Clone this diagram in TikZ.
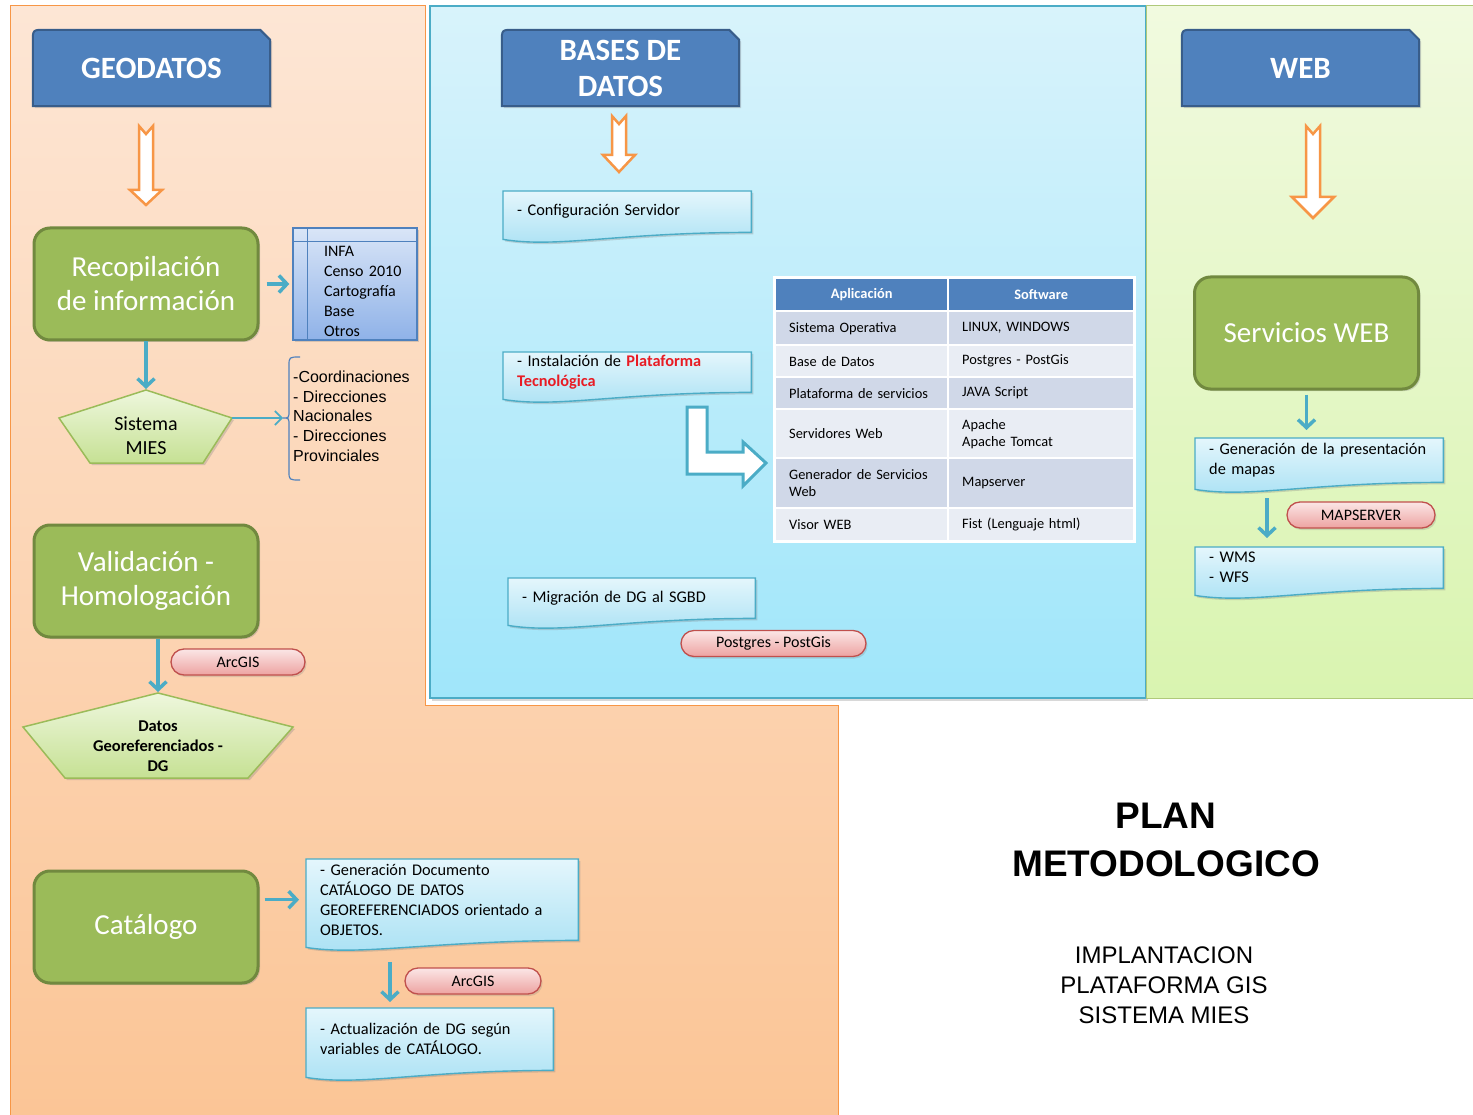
\documentclass[tikz,border=0pt]{standalone}
\usepackage{fontspec}
\setmainfont{Carlito}
\newfontfamily\arialfont{Liberation Sans}
\usetikzlibrary{arrows.meta,calc,positioning,shadows}
\definecolor{gsBlue}{HTML}{4F81BD}
\definecolor{gsBlueDark}{HTML}{385D8A}
\definecolor{gsTeal}{HTML}{4BACC6}
\definecolor{gsGreen}{HTML}{9BBB59}
\definecolor{gsGreenDark}{HTML}{71893F}
\definecolor{gsOrange}{HTML}{F79646}
\definecolor{gsRose}{HTML}{C0504D}
\definecolor{gsRed}{HTML}{E81C24}
\definecolor{gsRowA}{HTML}{D0D8E8}
\definecolor{gsRowB}{HTML}{E9EDF4}
\definecolor{gsPeachTop}{HTML}{FDE6D5}
\definecolor{gsPeachBot}{HTML}{FBC596}
\definecolor{gsSkyTop}{HTML}{D8F3FB}
\definecolor{gsSkyBot}{HTML}{A0E6FA}
\definecolor{gsLimeTop}{HTML}{F1FADF}
\definecolor{gsLimeBot}{HTML}{D9F4B0}
\definecolor{gsDocTop}{HTML}{E4F6FC}
\definecolor{gsDocBot}{HTML}{A9E1F4}
\definecolor{gsPentTop}{HTML}{EEF7DD}
\definecolor{gsPentBot}{HTML}{C6E194}
\definecolor{gsStoreTop}{HTML}{D9E5F7}
\definecolor{gsStoreBot}{HTML}{8FB2E8}
\definecolor{gsPillTop}{HTML}{FBE6E6}
\definecolor{gsPillBot}{HTML}{EDA3A1}
\newcommand{\fsz}[2]{\fontsize{#1}{#2}\selectfont}
\pgfdeclarelayer{back}
\pgfdeclarelayer{mid}
\pgfsetlayers{back,mid,main}
\tikzset{
  hdr/.style={minimum width=237pt, minimum height=76pt, inner sep=0pt,
    align=center, text=white, font=\bfseries\fsz{31}{36}},
  hdrshape/.style={fill=gsBlue, draw=gsBlueDark, line width=2pt,
    drop shadow={opacity=0.3, shadow xshift=2pt, shadow yshift=-2pt}},
  gbox/.style={minimum width=224pt, minimum height=112pt, rounded corners=16pt,
    fill=gsGreen, draw=gsGreenDark, line width=3pt, text=white, align=center,
    font=\fsz{29}{34}, drop shadow={opacity=0.3, shadow xshift=2pt, shadow yshift=-2pt}},
  store/.style={minimum width=124pt, minimum height=112pt, text width=96pt,
    inner xsep=14pt, inner ysep=0pt, align=left, top color=gsStoreTop,
    bottom color=gsStoreBot, draw=gsBlue, line width=1.3pt, font=\fsz{16}{20},
    drop shadow={opacity=0.3, shadow xshift=2pt, shadow yshift=-2pt}},
  pentshape/.style={top color=gsPentTop, bottom color=gsPentBot, draw=gsGreen,
    line width=1.5pt, drop shadow={opacity=0.3, shadow xshift=2pt, shadow yshift=-2pt}},
  penttext/.style={align=center, inner sep=0pt, font=\fsz{20}{24}},
  listtext/.style={align=left, inner sep=0pt, font=\arialfont\fsz{16}{19.7}},
  doc/.style={anchor=north west, inner xsep=14pt, inner ysep=0pt, align=left,
    font=\fsz{16.3}{20}},
  docshape/.style={top color=gsDocTop, bottom color=gsDocBot, draw=gsTeal,
    line width=1.4pt, drop shadow={opacity=0.3, shadow xshift=2pt, shadow yshift=-2pt}},
  pill/.style={minimum height=26pt, rounded corners=13pt, inner sep=0pt,
    top color=gsPillTop, bottom color=gsPillBot, draw=gsRose, line width=1.3pt,
    font=\fsz{16}{20}, drop shadow={opacity=0.25, shadow xshift=1.5pt, shadow yshift=-2pt}},
  cellhead/.style={anchor=north west, minimum height=31pt, inner sep=0pt,
    fill=gsBlue, text=white, font=\bfseries\fsz{14.4}{17}},
  cell/.style={anchor=north west, inner xsep=13pt, inner ysep=0pt, align=left,
    font=\fsz{14.4}{17}},
  barrow/.style={-{Straight Barb[length=8pt,width=17pt]}, draw=gsTeal, line width=3.5pt},
  tarrow/.style={-{Straight Barb[length=7pt,width=14pt]}, draw=gsTeal, line width=1.6pt},
  orangearrow/.style={fill=white, draw=gsOrange, line width=2.5pt, line join=miter},
  bentarrow/.style={fill=white, draw=gsTeal, line width=3pt, line join=miter}
}
\begin{document}
\begin{tikzpicture}[x=1pt,y=-1pt]
  \useasboundingbox (0,0) rectangle (1473,1115);
  \begin{pgfonlayer}{back}
    \fill[white] (0,0) rectangle (1473,1115);
    % panels
    \shade[top color=gsPeachTop, bottom color=gsPeachBot, draw=gsOrange, line width=1pt]
      (10,6) -- (425,6) -- (425,705) -- (838,705) -- (838,1115) -- (10,1115) -- cycle;
    \shade[top color=gsSkyTop, bottom color=gsSkyBot, draw=gsTeal, line width=1.5pt,
      drop shadow={opacity=0.3, shadow xshift=2pt, shadow yshift=-3pt}] (430,6) rectangle (1146,698);
    \shade[top color=gsLimeTop, bottom color=gsLimeBot, draw=gsGreen!80, line width=1pt]
      (1146,6) rectangle (1473,698);
  \end{pgfonlayer}

  % headers
  \node[hdr] (geo) at (151.5,68) {GEODATOS};
  \node[hdr] (bdd) at (620.5,68) {BASES DE\\DATOS};
  \node[hdr] (web) at (1300.5,68) {WEB};

  \foreach \cx/\ya/\yb/\hw/\hl in {146/126/205/16/15, 619/116/172/16/17, 1313/126/218/21/21}
    \draw[orangearrow] (\cx-7,\ya) -- (\cx,\ya+8) -- (\cx+7,\ya) -- (\cx+7,\yb-\hl)
      -- (\cx+\hw,\yb-\hl) -- (\cx,\yb) -- (\cx-\hw,\yb-\hl) -- (\cx-7,\yb-\hl) -- cycle;

  % geodatos column
  \node[gbox] (recop) at (146,284) {Recopilación\\de información};
  \node[gbox] (valid) at (146,581) {Validación -\\Homologación};
  \node[gbox] (catal) at (146,927) {Catálogo};

  \node[store] (infa) at (355,284) {\leftskip=17pt \mbox{}\\[6pt]INFA\\Censo 2010\\Cartografía\\Base\\Otros\par};
  \draw[gsBlue, line width=1pt] ([yshift=-14pt]infa.north west) -- ([yshift=-14pt]infa.north east);
  \draw[gsBlue, line width=1pt] ([xshift=15pt]infa.north west) -- ([xshift=15pt]infa.south west);

  \coordinate (miesT) at (146,390);
  \coordinate (miesR) at (232,418);
  \draw[pentshape] (miesT) -- (miesR) -- (203,463) -- (90,463) -- (59,418) -- cycle;
  \node[penttext] (mies) at (146,436) {Sistema\\MIES};

  \coordinate (brc) at (283,418);
  \draw[gsBlue, line width=1.2pt] (300,357) .. controls (289,357) .. (289,366) -- (289,410)
    .. controls (289,418) .. (brc) .. controls (289,418) .. (289,426) -- (289,471)
    .. controls (289,480) .. (300,480);
  \node[listtext, anchor=west] (unid) at (293,416)
    {-Coordinaciones\\- Direcciones\\Nacionales\\- Direcciones\\Provinciales};

  \coordinate (datT) at (158,693);
  \draw[pentshape] (datT) -- (293,727) -- (248,778) -- (65,778) -- (23,727) -- cycle;
  \node[penttext, font=\bfseries\fsz{16.5}{20}] (dg) at (158,746) {Datos\\Georeferenciados -\\DG};

  \node[pill, minimum width=134pt] (arc1) at (238,662) {ArcGIS};

  \node[doc, minimum width=272pt, minimum height=81pt, text width=244pt] (gdoc) at (306,859)
    {- Generación Documento\\CATÁLOGO DE DATOS\\GEOREFERENCIADOS orientado a\\OBJETOS.};
  \node[doc, minimum width=247pt, minimum height=62pt, text width=219pt] (act) at (306,1008)
    {- Actualización de DG según\\variables de CATÁLOGO.};
  \node[pill, minimum width=136pt] (arc2) at (473,981) {ArcGIS};

  % bases de datos column
  \node[doc, minimum width=248pt, minimum height=41pt, text width=220pt] (cfg) at (503,191)
    {- Configuración Servidor};
  \node[doc, minimum width=248pt, minimum height=40pt, text width=220pt] (inst) at (503,352)
    {- Instalación de \textcolor{gsRed}{\textbf{Plataforma}}\\\textcolor{gsRed}{\textbf{Tecnológica}}};
  \node[doc, minimum width=247pt, minimum height=40pt, text width=219pt] (mig) at (508,578)
    {- Migración de DG al SGBD};
  \node[pill, minimum width=185pt] (pg) at (773.5,643.5) {Postgres - PostGis};

  \draw[bentarrow] (687,407) -- (707,407) -- (707,452) -- (743,452) -- (743,442) -- (766,463)
    -- (743,486) -- (743,474) -- (687,474) -- cycle;

  \fill[white] (773,276) rectangle (1136,543);
  \node[cellhead, minimum width=171pt] (hapl) at (776,279) {Aplicación};
  \node[cellhead, minimum width=184pt] (hsw) at (949,279) {Software};
  \foreach \ry/\rh/\rc/\cola/\colb [count=\i] in {
      312/32/gsRowA/{Sistema Operativa}/{LINUX, WINDOWS},
      346/30/gsRowB/{Base de Datos}/{Postgres - PostGis},
      378/30/gsRowA/{Plataforma de servicios}/{JAVA Script},
      410/47/gsRowB/{Servidores Web}/{Apache\\Apache Tomcat},
      459/48/gsRowA/{Generador de Servicios\\Web}/{Mapserver},
      509/31/gsRowB/{Visor WEB}/{Fist (Lenguaje html)}} {
    \node[cell, fill=\rc, minimum width=171pt, text width=145pt, minimum height=\rh] (apl\i) at (776,\ry) {\cola};
    \node[cell, fill=\rc, minimum width=184pt, text width=158pt, minimum height=\rh] (sw\i) at (949,\ry) {\colb};
  }

  % web column
  \node[gbox] (serv) at (1306.5,333) {Servicios WEB};
  \node[doc, minimum width=248pt, minimum height=44pt, text width=220pt] (gpres) at (1195,438)
    {- Generación de la presentación\\de mapas};
  \node[pill, minimum width=148pt] (msrv) at (1361,515) {MAPSERVER};
  \node[doc, minimum width=248pt, minimum height=41pt, text width=220pt] (wms) at (1195,547)
    {- WMS\\- WFS};

  % title
  \node[font=\arialfont\bfseries\fsz{37}{48}, align=center] (plan) at (1166,840) {PLAN\\METODOLOGICO};
  \node[font=\arialfont\fsz{24}{30}, align=center] (impl) at (1164,985)
    {IMPLANTACION\\PLATAFORMA GIS\\SISTEMA MIES};

  \begin{pgfonlayer}{mid}
    \foreach \n in {geo,bdd,web}
      \draw[hdrshape] (\n.south west) -- ($(\n.north west)+(0,12)$) .. controls (\n.north west)
        .. ($(\n.north west)+(12,0)$) -- ($(\n.north east)+(-10,0)$) -- ($(\n.north east)+(0,10)$)
        -- (\n.south east) -- cycle;
    \foreach \n in {cfg,inst,mig,gdoc,act,gpres,wms}
      \draw[docshape] (\n.north west) -- (\n.north east) -- (\n.south east)
        .. controls ($(\n.south)+(-10,0)$) and ($(\n.south west)+(55,16)$)
        .. ($(\n.south west)+(0,7)$) -- cycle;
  \end{pgfonlayer}

  % connectors
  \draw[barrow, shorten <=7pt, shorten >=3pt] (recop.east) -- (infa.west);
  \draw[barrow, shorten >=1pt] (recop.south) -- (miesT);
  \draw[tarrow] (miesR) -- (brc);
  \draw[barrow, shorten >=1pt] (valid.south -| datT) -- (datT);
  \draw[barrow, shorten <=5pt, shorten >=7pt] (catal.east |- gdoc.west) -- (gdoc.west);
  \draw[barrow, shorten <=22pt, shorten >=6pt] ([xshift=84pt]gdoc.south west) -- ([xshift=84pt]act.north west);
  \draw[barrow, shorten <=4pt, shorten >=8pt] (serv.south) -- (serv.south |- gpres.north);
  \draw[barrow, shorten <=16pt, shorten >=9pt] ([xshift=72pt]gpres.south west) -- ([xshift=72pt]wms.north west);
\end{tikzpicture}
\end{document}
